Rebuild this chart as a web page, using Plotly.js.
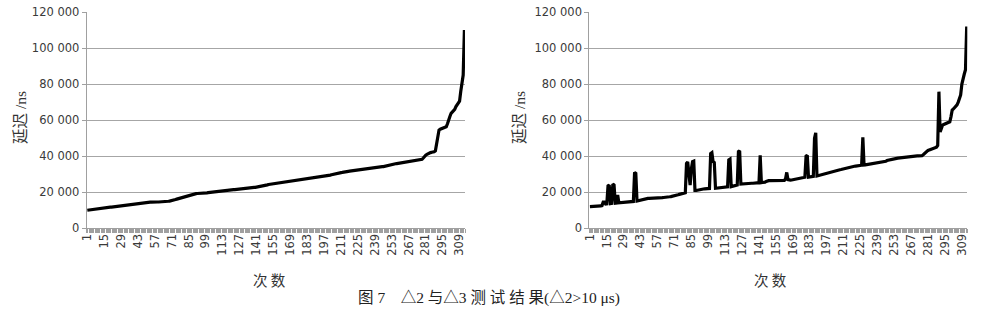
<!DOCTYPE html>
<html>
<head>
<meta charset="utf-8">
<script src="https://cdn.plot.ly/plotly-3.0.1.min.js"></script>
<style>
html,body{margin:0;padding:0;background:#fff;}
#chart{width:984px;height:315px;}
</style>
</head>
<body>
<div id="chart"></div>
<script>
// 次数 (test index) tick labels
const xTickLabels = ['1','15','29','43','57','71','85','99','113','127','141','155','169','183','197','211','225','239','253','267','281','295','309'];
const yTickValues = [0, 20000, 40000, 60000, 80000, 100000, 120000];
const yTickLabels = ['0', '20 000', '40 000', '60 000', '80 000', '100 000', '120 000'];

// Left chart: delay (ns) of Δ2, sorted
const delayLeft = [
10000,10100,10200,10300,10400,10500,10600,10700,10800,11000,
11000,11100,11200,11200,11300,11400,11500,11500,11600,11700,
11700,11800,11900,11900,12000,12000,12100,12200,12200,12300,
12500,12600,12800,12900,13000,13100,13200,13300,13400,13400,
13500,13600,13600,13800,14000,14100,14200,14300,14400,14500,
14500,14500,14500,14500,14600,14600,14600,14600,14600,14600,
14600,14700,14700,14700,14700,14800,14800,15000,15100,15200,
15300,15500,15700,16000,16200,16400,16600,16800,17000,17200,
17400,17600,17800,18100,18300,18600,18800,19000,19100,19200,
19200,19300,19300,19400,19400,19500,19500,19600,19600,19700,
19800,19900,20000,20100,20100,20200,20300,20300,20400,20500,
20500,20600,20600,20700,20800,20900,21000,21100,21200,21300,
21400,21500,21500,21600,21700,21800,21900,22000,22100,22200,
22200,22300,22300,22400,22400,22500,22500,22600,22700,22700,
22800,23000,23200,23400,23600,23700,23800,23900,24000,24100,
24300,24400,24500,24500,24600,24700,24800,24900,25000,25000,
25100,25200,25300,25400,25500,25500,25600,25700,25800,25900,
26000,26100,26200,26300,26500,26600,26800,26900,27000,27200,
27300,27400,27500,27600,27700,27800,27900,28000,28200,28300,
28400,28500,28600,28700,28800,28900,29000,29100,29200,29300,
29400,29500,29700,29900,30100,30200,30300,30400,30600,30800,
30900,31000,31200,31300,31400,31500,31600,31700,31800,31900,
32000,32200,32300,32400,32500,32700,32800,32900,33000,33100,
33200,33300,33400,33400,33500,33600,33600,33700,33800,33800,
33900,34000,34000,34100,34200,34200,34400,34600,34800,35000,
35100,35200,35400,35500,35700,35800,35900,36000,36100,36200,
36400,36500,36700,36800,37000,37100,37200,37300,37400,37500,
37600,37700,37800,37900,37900,38000,38100,38300,39000,40000,
40600,41000,41500,41800,42000,42200,42300,42500,43000,47000,
52000,54500,55000,55300,55500,55800,56000,56300,58000,61000,
62000,63800,64500,65200,66000,67500,68500,69400,70500,76000,80000,85000,110000
];

// Right chart: delay (ns) of Δ3 in the same order
const delayRight = [
12000,12000,12000,12000,12000,12000,12000,12100,12200,12400,
12600,14500,14500,13500,13600,23500,24000,13700,13800,24500,
24000,13900,14000,18500,14100,14200,14300,14400,14500,14500,
14600,14600,14700,14700,14800,14800,14900,31000,30500,15100,
15300,15500,15600,15800,16000,16100,16300,16500,16600,16600,
16600,16700,16700,16700,16800,16800,16800,16900,16900,17000,
17000,17100,17100,17200,17300,17400,17500,17600,17700,17800,
18000,18200,18400,18600,18800,19000,19200,19300,19500,19700,
36000,36800,30000,24000,33000,37000,37300,21000,21000,21200,
21400,21500,21700,21800,21800,21900,21900,22000,22000,22100,
41500,42000,37000,36500,22200,22300,22300,22400,22400,22500,
22600,22700,22800,22900,23000,38000,38400,23100,23200,23300,
23500,23700,24000,42500,43000,24500,24600,24600,24700,24700,
24800,24800,24900,24900,25000,25000,25100,25100,25200,25200,
25300,40500,25300,25400,25400,25600,26000,26400,26400,26400,
26400,26400,26400,26500,26500,26500,26500,26500,26600,26600,
26600,26600,27500,31000,27000,26700,26700,26800,26900,27000,
27100,27300,27400,27600,27700,27800,28000,28200,28300,40000,
40500,28400,28500,28600,28700,28800,50000,53000,29000,29200,
29500,29700,29900,30100,30300,30500,30600,30800,31000,31200,
31300,31500,31600,31800,32000,32200,32300,32500,32600,32800,
32900,33100,33300,33400,33600,33700,33900,34000,34200,34400,
34500,34600,34700,34800,34900,35000,50500,35100,35200,35300,
35400,35500,35700,35800,35900,36000,36100,36200,36300,36400,
36600,36700,36800,36900,37000,37200,37600,37800,38000,38200,
38300,38500,38600,38700,38800,38900,39000,39100,39200,39400,
39500,39600,39700,39800,39900,40000,40000,40100,40100,40100,
40100,40200,40200,40200,40200,40300,40800,41500,42200,42800,
43200,43500,43800,44000,44300,44500,44800,45000,46000,75800,
53500,55500,57200,57600,58000,58300,58600,58800,59100,62000,
65600,66200,66800,67500,68500,70000,71600,74000,80000,83500,85600,88000,112000
];

const runs = delayLeft.map((_, i) => i + 1);
const tickVals = xTickLabels.map(Number);

const tickFont = {family: 'DejaVu Sans, Verdana, sans-serif', size: 11.5, color: '#3a3a3a'};
const titleFont = {family: 'Liberation Serif, Noto Sans CJK SC, serif', size: 15.5, color: '#333'};

function xAxis(domain, anchor) {
  return {
    domain: domain, anchor: anchor,
    range: [0.5, runs.length + 0.5],
    tickmode: 'array', tickvals: tickVals, ticktext: xTickLabels,
    tickangle: -90, tickfont: tickFont,
    ticks: '', showgrid: false, zeroline: false,
    showline: true, linecolor: '#a0a0a0', linewidth: 1,
    minor: {tick0: 0.5, dtick: 1, ticks: 'outside', ticklen: 4, tickcolor: '#a0a0a0', tickwidth: 1, showgrid: false}
  };
}
function yAxis(domain, anchor) {
  return {
    domain: domain, anchor: anchor,
    range: [0, 120000],
    tickmode: 'array', tickvals: yTickValues, ticktext: yTickLabels,
    tickfont: tickFont, ticks: 'outside', ticklen: 4, tickcolor: '#a0a0a0',
    showgrid: true, gridcolor: '#a6a6a6', gridwidth: 1, zeroline: false,
    showline: true, linecolor: '#a0a0a0', linewidth: 1
  };
}

const data = [
  {x: runs, y: delayLeft, type: 'scatter', mode: 'lines', xaxis: 'x', yaxis: 'y',
   line: {color: '#000', width: 3.2}, hoverinfo: 'skip'},
  {x: runs, y: delayRight, type: 'scatter', mode: 'lines', xaxis: 'x2', yaxis: 'y2',
   line: {color: '#000', width: 3.2}, hoverinfo: 'skip'}
];

const yDom = [1 - 228.3 / 315, 1 - 12 / 315];
const layout = {
  width: 984, height: 315,
  margin: {l: 0, r: 0, t: 0, b: 0},
  paper_bgcolor: '#fff', plot_bgcolor: '#fff',
  showlegend: false,
  xaxis: xAxis([86.7 / 984, 465 / 984], 'y'),
  yaxis: yAxis(yDom, 'x'),
  xaxis2: xAxis([589.3 / 984, 967.3 / 984], 'y2'),
  yaxis2: yAxis(yDom, 'x2'),
  annotations: [
    {text: '延迟 /ns', xref: 'paper', yref: 'paper', x: 20 / 984, y: 1 - 118 / 315,
     textangle: -90, showarrow: false, font: titleFont, xanchor: 'center', yanchor: 'middle'},
    {text: '延迟 /ns', xref: 'paper', yref: 'paper', x: 519 / 984, y: 1 - 118 / 315,
     textangle: -90, showarrow: false, font: titleFont, xanchor: 'center', yanchor: 'middle'},
    {text: '次 数', xref: 'paper', yref: 'paper', x: 269 / 984, y: 1 - 279 / 315,
     showarrow: false, font: {family: 'Noto Sans CJK SC, sans-serif', size: 14.5, color: '#333'}, xanchor: 'center', yanchor: 'middle'},
    {text: '次 数', xref: 'paper', yref: 'paper', x: 770 / 984, y: 1 - 279 / 315,
     showarrow: false, font: {family: 'Noto Sans CJK SC, sans-serif', size: 14.5, color: '#333'}, xanchor: 'center', yanchor: 'middle'},
    {text: '图 7　△2 与△3 测 试 结 果(△2>10 μs)', xref: 'paper', yref: 'paper', x: 489 / 984, y: 1 - 298 / 315,
     showarrow: false, font: {family: 'Liberation Serif, Noto Sans CJK SC, serif', size: 15.5, color: '#222'}, xanchor: 'center', yanchor: 'middle'}
  ]
};

Plotly.newPlot('chart', data, layout, {staticPlot: true, displayModeBar: false});
</script>
</body>
</html>
